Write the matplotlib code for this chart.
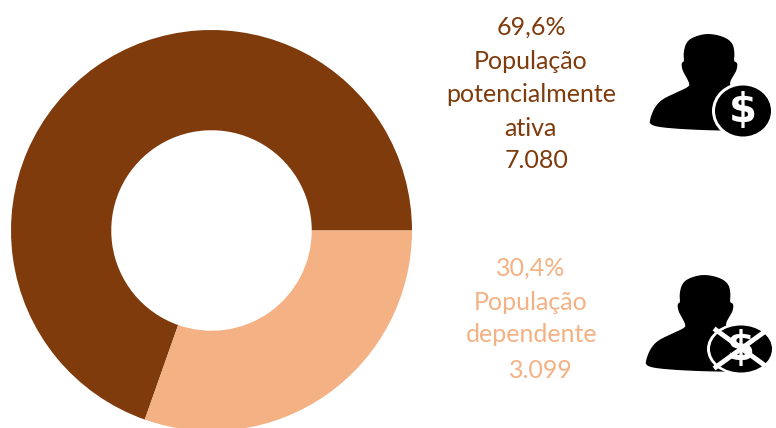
import matplotlib
matplotlib.use('Agg')
from matplotlib import pyplot as plt
from matplotlib.patches import Ellipse, Polygon

# ---------- values ----------
shares = [69.6, 30.4]
colors = ['#7f3b0c', '#f4b183']
active_lines = ['69,6%', 'População', 'potencialmente', 'ativa', '7.080']
dependent_lines = ['30,4%', 'População', 'dependente', '3.099']
plt.rcParams['font.family'] = ['Lato', 'DejaVu Sans']

W, H = 776, 428
fig = plt.figure(figsize=(W / 100, H / 100), dpi=100)
ax = fig.add_axes([0, 0, 1, 1])
ax.set_xlim(0, W)
ax.set_ylim(H, 0)
ax.axis('off')

# ---------- donut ----------
ax_pie = fig.add_axes([11 / W, 1 - 431 / H, 401 / W, 401 / H])
ax_pie.pie(shares, colors=colors, startangle=0, counterclock=True,
           radius=1, wedgeprops={'width': 0.5})
ax_pie.set_xlim(-1, 1)
ax_pie.set_ylim(-1, 1)

# ---------- labels ----------
for line, x, y in zip(active_lines, [531, 531, 531, 530, 537], [27, 61, 94, 129, 161]):
    ax.text(x, y, line, color=colors[0], fontsize=18, ha='center', va='center')
for line, x, y in zip(dependent_lines, [531, 531, 532, 541], [268, 302, 335, 371]):
    ax.text(x, y, line, color=colors[1], fontsize=18, ha='center', va='center')

# ---------- icons ----------
# head and shoulders outline, pixel offsets from the top left of the icon
outline = [(68, 14), (83, 17), (92, 23), (94, 33), (93, 42), (97, 43), (96, 50), (93, 55),
           (89, 62), (90, 67), (100, 68), (115, 72), (125, 85), (125, 110), (77, 110),
           (33, 108), (10, 105), (11, 98), (15, 88), (22, 80), (37, 73), (50, 67), (50, 63),
           (47, 57), (43, 50), (42, 43), (45, 42), (44, 33), (47, 22), (55, 17)]


def smooth(points, rounds=3):
    # corner cutting so the silhouette has no visible vertices
    for _ in range(rounds):
        out = []
        for (x1, y1), (x2, y2) in zip(points, points[1:] + points[:1]):
            out.append((0.75 * x1 + 0.25 * x2, 0.75 * y1 + 0.25 * y2))
            out.append((0.25 * x1 + 0.75 * x2, 0.25 * y1 + 0.75 * y2))
        points = out
    return points


def person(x0, y0):
    ax.add_patch(Polygon([(x0 + px, y0 + py) for px, py in smooth(outline)], closed=True,
                         fc='black', ec='black', lw=1))


person(640, 20)
ax.add_patch(Ellipse((743, 111), 62, 57, fc='white', lw=0))
ax.add_patch(Ellipse((743, 111), 56, 51, fc='black', lw=0))
ax.text(743, 111, '$', color='white', fontsize=29, fontweight='bold', ha='center',
        va='center', family='DejaVu Sans', parse_math=False)

person(636, 261)
ax.add_patch(Ellipse((741, 349), 68, 52, fc='white', lw=0))
ax.add_patch(Ellipse((741, 349), 62, 47, fc='black', lw=0))
ax.text(741, 349, '$', color='white', fontsize=29, fontweight='bold', ha='center',
        va='center', family='DejaVu Sans', parse_math=False, zorder=3)
ax.plot([716, 767], [330, 367], color='white', lw=3.5, zorder=4)
ax.plot([716, 767], [367, 330], color='white', lw=3.5, zorder=4)

fig.savefig('out.png', dpi=100)
